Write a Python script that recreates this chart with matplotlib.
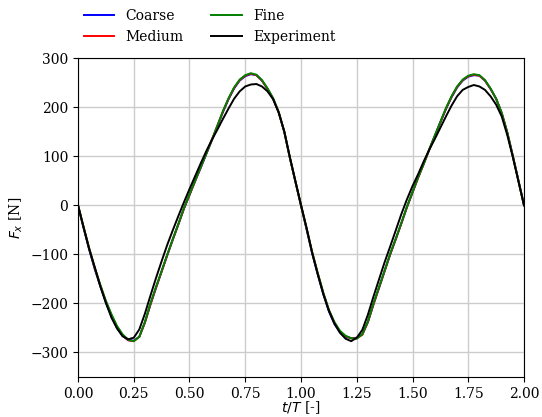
import numpy as np
import matplotlib
matplotlib.use("Agg")
import matplotlib.pyplot as plt

# Phase t/T (step 0.025)
t = np.arange(81) * 0.025

fine = [
    0, -44, -87, -127, -162, -195, -222, -246, -263, -274,
    -277, -268, -238, -200, -166, -134, -101, -69, -38, -6,
    22, 50, 77, 105, 133, 162, 192, 218, 240, 256,
    265, 269, 266, 255, 238, 218, 190, 150, 97, 48,
    0, -47, -95, -138, -178, -213, -238, -256, -266, -271,
    -272, -263, -237, -200, -167, -133, -99, -68, -36, -3,
    27, 57, 84, 114, 142, 170, 198, 222, 242, 256,
    264, 267, 265, 255, 238, 217, 188, 148, 100, 50,
    0,
]

medium = [
    0, -45, -88, -128, -163, -196, -224, -248, -265, -275,
    -277, -268, -239, -202, -168, -135, -102, -70, -39, -7,
    21, 49, 77, 105, 133, 162, 191, 217, 239, 255,
    264, 268, 265, 254, 237, 217, 189, 150, 97, 48,
    0, -48, -96, -139, -179, -214, -240, -258, -267, -271,
    -271, -264, -238, -202, -168, -134, -100, -69, -37, -4,
    26, 56, 84, 113, 141, 169, 197, 221, 241, 255,
    263, 266, 264, 254, 237, 217, 188, 148, 100, 50,
    0,
]

coarse = [
    0, -46, -90, -130, -165, -198, -226, -250, -266, -275,
    -276, -268, -239, -202, -168, -135, -102, -70, -39, -7,
    21, 49, 76, 104, 132, 161, 190, 216, 238, 254,
    263, 267, 265, 254, 237, 217, 189, 150, 97, 48,
    0, -49, -98, -141, -181, -216, -242, -259, -268, -271,
    -270, -263, -238, -202, -168, -134, -100, -69, -37, -4,
    26, 56, 84, 113, 141, 169, 196, 220, 240, 254,
    262, 265, 264, 254, 237, 217, 188, 148, 100, 50,
    0,
]

experiment = [
    0, -45, -89, -126, -165, -199, -229, -251, -267, -273,
    -270, -253, -221, -184, -148, -114, -81, -51, -22, 6,
    33, 59, 85, 110, 133, 154, 176, 197, 217, 232,
    242, 246, 247, 242, 232, 216, 189, 150, 98, 49,
    0, -46, -97, -140, -181, -215, -241, -260, -272, -277,
    -270, -254, -223, -186, -151, -116, -84, -51, -18, 12,
    39, 63, 89, 113, 135, 158, 181, 203, 222, 235,
    241, 245, 242, 235, 222, 205, 181, 143, 98, 49,
    0,
]

plt.rcParams["font.family"] = "DejaVu Serif"
plt.rcParams["font.size"] = 10

fig = plt.figure(figsize=(5.42, 4.17), dpi=100)
ax = fig.add_axes([0.1439, 0.0959, 0.8229, 0.765])

ax.plot(t, coarse, color="blue", lw=1.4, label="Coarse")
ax.plot(t, medium, color="red", lw=1.4, label="Medium")
ax.plot(t, fine, color="green", lw=1.4, label="Fine")
ax.plot(t, experiment, color="black", lw=1.4, label="Experiment")

ax.set_xlim(0, 2)
ax.set_ylim(-350, 300)
ax.set_xticks(np.arange(0, 2.01, 0.25))
ax.set_yticks(np.arange(-300, 301, 100))
ax.xaxis.set_major_formatter(matplotlib.ticker.FormatStrFormatter("%.2f"))
ax.grid(True, color="0.8", lw=1.0)
ax.set_axisbelow(True)

ax.set_xlabel("$t/T$ [-]", labelpad=-1)
ax.set_ylabel("$F_x$ [N]")

ax.legend(loc="lower left", bbox_to_anchor=(-0.015, 1.005), ncol=2,
          frameon=False, handlelength=2.2)

fig.savefig("out.png", dpi=100)
